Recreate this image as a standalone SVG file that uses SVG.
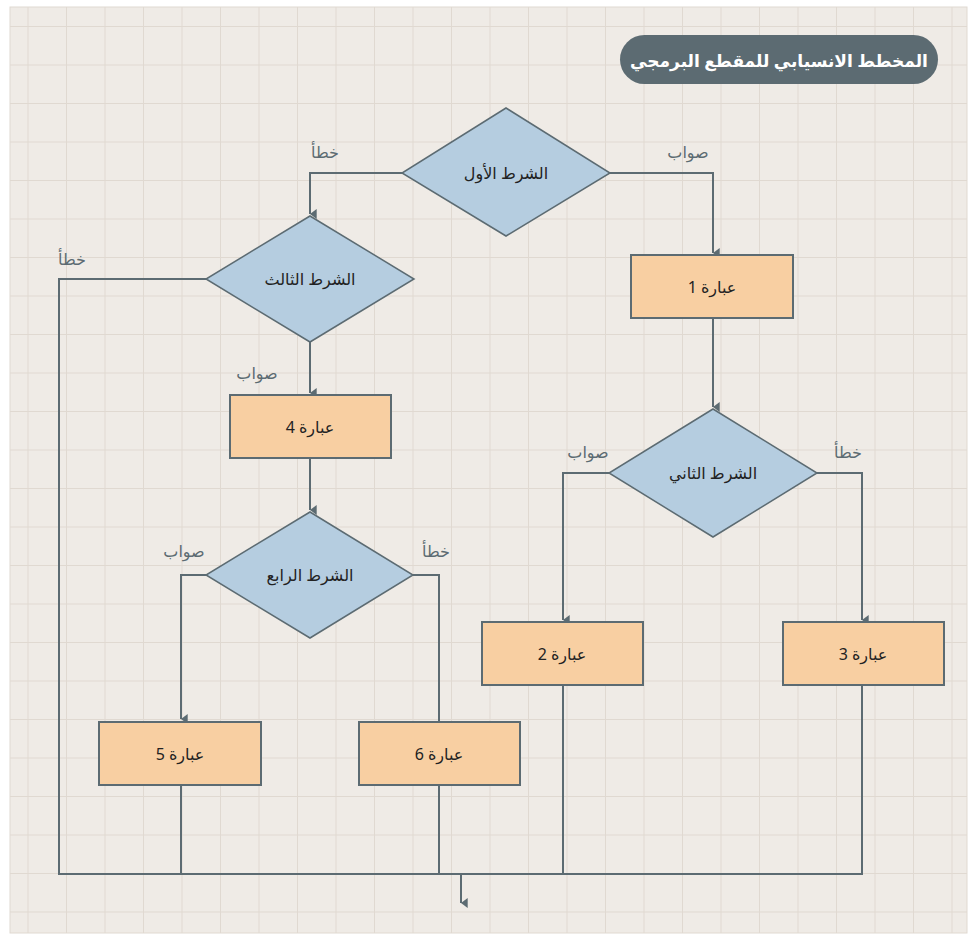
<svg xmlns="http://www.w3.org/2000/svg" width="977" height="941" viewBox="0 0 977 941">
<defs>
<pattern id="g" x="27.5" y="26" width="38.5" height="38.5" patternUnits="userSpaceOnUse">
<path d="M0 0V38.5M0 0H38.5" stroke="#e0d9d1" stroke-width="2" fill="none"/>
</pattern>
<marker id="a" markerWidth="10" markerHeight="10" refX="6" refY="8" orient="auto" markerUnits="userSpaceOnUse" viewBox="0 0 12 10"><path d="M0 0H12L6 8Z" fill="#5c6b72"/></marker>
</defs>
<style>
.d{fill:#b5cde0;stroke:#5c6b72;stroke-width:1.5}
.b{fill:#f8cfa2;stroke:#5c6b72;stroke-width:2}
.t{font-family:"Noto Sans","DejaVu Sans",sans-serif;font-size:16px;fill:#222;text-anchor:middle;dominant-baseline:central}
.l{font-family:"Noto Sans","DejaVu Sans",sans-serif;font-size:16px;fill:#5c6b72;text-anchor:middle}
.c{fill:none;stroke:#5c6b72;stroke-width:2}
</style>
<rect x="10" y="7" width="957" height="926" fill="#efebe6" stroke="#e0d9d1"/>
<rect x="10" y="7" width="957" height="926" fill="url(#g)"/>
<g id="title"><rect x="620" y="35" width="318" height="49" rx="24.5" fill="#5c6b72"/><text x="779" y="60" class="t" style="fill:#fff;font-weight:bold;font-size:17px">المخطط الانسيابي للمقطع البرمجي</text></g>
<g id="connectors">
<path class="c" d="M610 173H713V253" marker-end="url(#a)"/>
<path class="c" d="M713 318V407" marker-end="url(#a)"/>
<path class="c" d="M609 473H563V620" marker-end="url(#a)"/>
<path class="c" d="M817 473H862V620" marker-end="url(#a)"/>
<path class="c" d="M402 173H310V214" marker-end="url(#a)"/>
<path class="c" d="M206 279H59V874H862V685"/>
<path class="c" d="M310 342V393" marker-end="url(#a)"/>
<path class="c" d="M310 458V510" marker-end="url(#a)"/>
<path class="c" d="M206 575H181V719" marker-end="url(#a)"/>
<path class="c" d="M413 575H439V722"/>
<path class="c" d="M181 785V874M439 785V874M563 685V874"/>
<path class="c" d="M461 874V903" marker-end="url(#a)"/>
<text class="l" x="688" y="158">صواب</text>
<text class="l" x="325" y="158">خطأ</text>
<text class="l" x="588" y="458">صواب</text>
<text class="l" x="848" y="458">خطأ</text>
<text class="l" x="72" y="265">خطأ</text>
<text class="l" x="257" y="379">صواب</text>
<text class="l" x="184" y="557">صواب</text>
<text class="l" x="436" y="557">خطأ</text>
</g>
<g id="d1"><path class="d" d="M506 108L610 173L506 236L402 173Z"/><text class="t" x="506" y="173">الشرط الأول</text></g>
<g id="b1"><rect class="b" x="631" y="255" width="162" height="63"/><text class="t" x="712" y="287">عبارة 1</text></g>
<g id="d2"><path class="d" d="M713 409L817 473L713 537L609 473Z"/><text class="t" x="713" y="473">الشرط الثاني</text></g>
<g id="b2"><rect class="b" x="482" y="622" width="161" height="63"/><text class="t" x="562" y="654">عبارة 2</text></g>
<g id="b3"><rect class="b" x="783" y="622" width="161" height="63"/><text class="t" x="863" y="654">عبارة 3</text></g>
<g id="d3"><path class="d" d="M310 216L414 279L310 342L206 279Z"/><text class="t" x="310" y="279">الشرط الثالث</text></g>
<g id="b4"><rect class="b" x="230" y="395" width="161" height="63"/><text class="t" x="310" y="427">عبارة 4</text></g>
<g id="d4"><path class="d" d="M310 512L413 575L310 638L206 575Z"/><text class="t" x="310" y="575">الشرط الرابع</text></g>
<g id="b5"><rect class="b" x="99" y="722" width="162" height="63"/><text class="t" x="180" y="754">عبارة 5</text></g>
<g id="b6"><rect class="b" x="359" y="722" width="161" height="63"/><text class="t" x="439" y="754">عبارة 6</text></g>
</svg>
